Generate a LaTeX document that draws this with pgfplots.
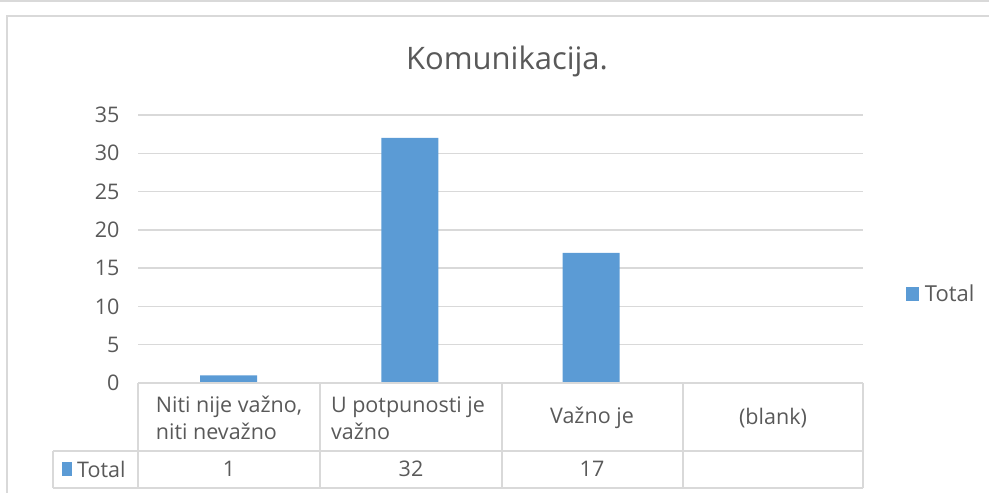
\documentclass[border=0pt]{standalone}
\usepackage{pgfplots}
\pgfplotsset{compat=1.18}
\usepackage{fontspec}
\setmainfont{Open Sans}
\definecolor{barblue}{HTML}{5B9BD5}
\definecolor{txt}{HTML}{595959}
\definecolor{gridc}{HTML}{D9D9D9}
\newcommand{\ft}{\fontsize{21.5}{27}\selectfont}
\begin{document}
\begin{tikzpicture}[x=1pt,y=1pt]
\useasboundingbox (0,0) rectangle (989,493);
\draw[gridc, line width=1.2pt] (0,492) -- (989,492);
\draw[gridc, line width=1.5pt] (7,0) -- (7,477) -- (989,477);
\node[text=txt, font=\fontsize{31}{33}\selectfont] at (507,432) {Komunikacija.};
\begin{axis}[
  at={(138pt,110pt)}, anchor=south west, scale only axis,
  width=725pt, height=268pt,
  xmin=-0.5, xmax=3.5, ymin=0, ymax=35,
  ytick={0,5,...,35}, xtick=\empty,
  axis line style={draw=none}, major tick length=0pt,
  ymajorgrids, grid style={gridc, line width=1.5pt},
  yticklabel style={font=\ft, text=txt, xshift=-15pt},
  /pgf/number format/assume math mode=true,
  ybar, bar width=57pt, bar shift=0pt,
  legend style={at={(1.059,0.332)}, anchor=west, draw=none, fill=none,
    font=\fontsize{22}{24}\selectfont, text=txt, inner sep=0pt},
  legend image code/.code={\fill[barblue] (0pt,-7pt) rectangle (13pt,7pt); \path (17pt,0pt);},
  clip=false,
]
\addplot[fill=barblue, draw=none] coordinates {(0,1) (1,32) (2,17)};
\addlegendentry{Total}
\end{axis}
% data table
\begin{scope}[gridc, line width=1.5pt]
\draw (138,110) -- (863,110);
\draw (53,42) -- (863,42);
\draw (53,5) -- (863,5);
\draw (53,42) -- (53,5);
\foreach \xx in {138,320,502,683,863} \draw (\xx,110) -- (\xx,5);
\end{scope}
\begin{scope}[every node/.style={text=txt, font=\ft}]
\node[align=left] at (229,75) {Niti nije važno,\\niti nevažno};
\node[align=left] at (408,75) {U potpunosti je\\važno};
\node at (592,75) {Važno je};
\node at (773,75) {(blank)};
\node at (229,24) {1};
\node at (411,24) {32};
\node at (592,24) {17};
\fill[barblue] (62,17) rectangle (72,31);
\node[anchor=west, inner sep=0pt] at (77,24) {Total};
\end{scope}
\end{tikzpicture}
\end{document}
